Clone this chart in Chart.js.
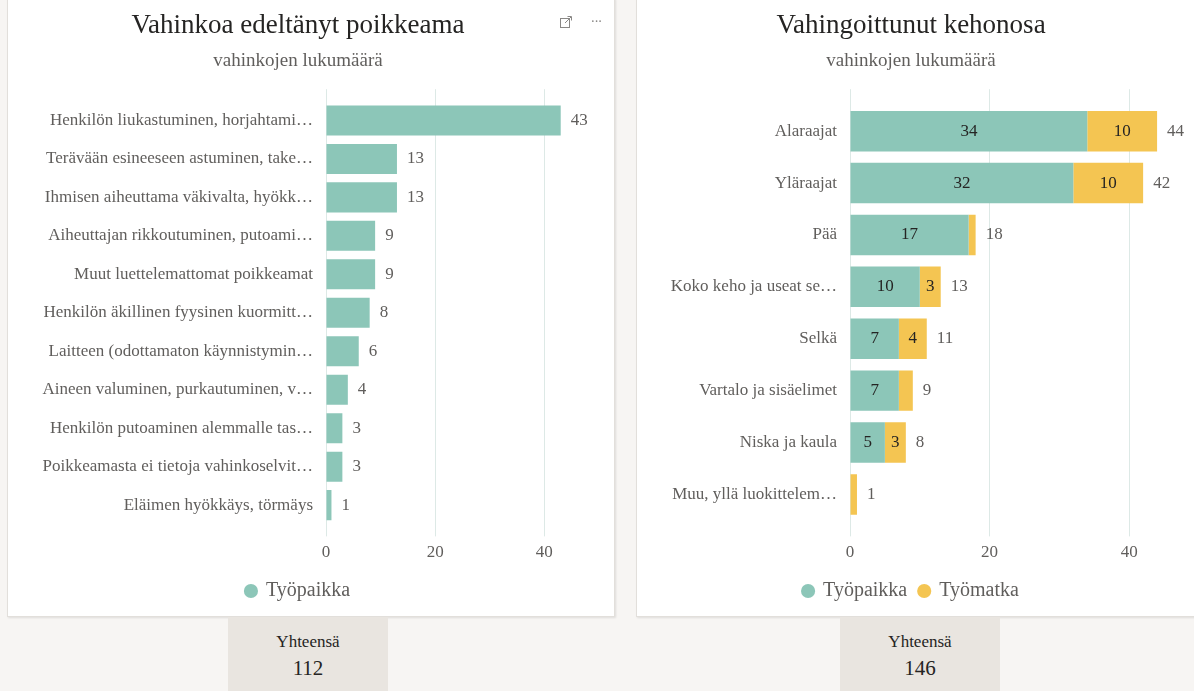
<!DOCTYPE html>
<html>
<head>
<meta charset="utf-8">
<title>Vahinkoa edeltänyt poikkeama / Vahingoittunut kehonosa</title>
<script src="https://cdn.jsdelivr.net/npm/chart.js"></script>
<style>
    body { margin: 0; width: 1194px; height: 691px; overflow: hidden; position: relative;
           background: #f7f5f3; font-family: "Liberation Serif", serif; }
    .panel { position: absolute; top: -2px; height: 617px; background: #fff; overflow: hidden;
             border: 1px solid #e2dfdb; box-shadow: 1px 1px 2px rgba(0,0,0,0.10); }
    #p1 { left: 7px; width: 606px; }
    #p2 { left: 636px; width: 570px; }
    .panel canvas { position: absolute; left: 0; top: 2px; }
    .icons { position: absolute; top: 14px; left: 551px; color: #8a8886; font-size: 14px; }
    .total { position: absolute; top: 617px; width: 160px; height: 80px; background: #e9e5e0;
             text-align: center; color: #252423; }
    .total .t1 { font-size: 17px; margin-top: 15px; }
    .total .t2 { font-size: 21px; margin-top: 4px; }
</style>
</head>
<body>
<div class="panel" id="p1">
    <canvas id="leftChart" width="606" height="610"></canvas>
    <div class="icons">
        <svg width="14" height="14" viewBox="0 0 14 14" style="vertical-align:middle">
            <rect x="1.5" y="3.5" width="9" height="9" fill="none" stroke="#8a8886"/>
            <path d="M6 8 L12 2 M8.5 1.5 H12.5 V5.5" fill="none" stroke="#8a8886"/>
        </svg>
        <span style="margin-left:14px;vertical-align:middle;letter-spacing:-1px">···</span>
    </div>
</div>
<div class="panel" id="p2">
    <canvas id="rightChart" width="568" height="610"></canvas>
</div>
<div class="total" style="left:228px"><div class="t1">Yhteensä</div><div class="t2" id="sum1"></div></div>
<div class="total" style="left:840px"><div class="t1">Yhteensä</div><div class="t2" id="sum2"></div></div>

<script>
    // data
    const leftLabels = [
        'Henkilön liukastuminen, horjahtami…',
        'Terävään esineeseen astuminen, take…',
        'Ihmisen aiheuttama väkivalta, hyökk…',
        'Aiheuttajan rikkoutuminen, putoami…',
        'Muut luettelemattomat poikkeamat',
        'Henkilön äkillinen fyysinen kuormitt…',
        'Laitteen (odottamaton käynnistymin…',
        'Aineen valuminen, purkautuminen, v…',
        'Henkilön putoaminen alemmalle tas…',
        'Poikkeamasta ei tietoja vahinkoselvit…',
        'Eläimen hyökkäys, törmäys'
    ];
    const leftTyopaikka = [43, 13, 13, 9, 9, 8, 6, 4, 3, 3, 1];

    const rightLabels = [
        'Alaraajat', 'Yläraajat', 'Pää', 'Koko keho ja useat se…',
        'Selkä', 'Vartalo ja sisäelimet', 'Niska ja kaula', 'Muu, yllä luokittelem…'
    ];
    const rightTyopaikka = [34, 32, 17, 10, 7, 7, 5, 0];
    const rightTyomatka = [10, 10, 1, 3, 4, 2, 3, 1];

    const axisMax = 48;
    const axisStep = 20;

    const teal = '#8cc6b8';
    const yellow = '#f4c552';
    const gridColor = '#dde9e6';
    const textGray = '#605e5c';
    const serif = '"Liberation Serif", serif';

    Chart.defaults.font.family = serif;

    const sum = arr => arr.reduce((a, b) => a + b, 0);
    document.getElementById('sum1').textContent = sum(leftTyopaikka);
    document.getElementById('sum2').textContent = sum(rightTyopaikka) + sum(rightTyomatka);

    // value labels: segment values inside the bars, totals after the bar end
    const valueLabels = {
        id: 'valueLabels',
        afterDatasetsDraw(chart, args, opts) {
            const ctx = chart.ctx;
            const xs = chart.scales.x;
            ctx.save();
            ctx.font = '17px ' + serif;
            ctx.textBaseline = 'middle';
            if (opts.inside) {
                ctx.textAlign = 'center';
                ctx.fillStyle = '#252423';
                chart.data.datasets.forEach((ds, di) => {
                    chart.getDatasetMeta(di).data.forEach((bar, i) => {
                        const v = ds.data[i];
                        if (v && Math.abs(bar.x - bar.base) >= 18) {
                            ctx.fillText(v, (bar.x + bar.base) / 2, bar.y);
                        }
                    });
                });
            }
            ctx.textAlign = 'left';
            ctx.fillStyle = textGray;
            chart.data.labels.forEach((l, i) => {
                const total = chart.data.datasets.reduce((s, ds) => s + ds.data[i], 0);
                const y = chart.getDatasetMeta(0).data[i].y;
                ctx.fillText(total, xs.getPixelForValue(total) + 10, y);
            });
            ctx.restore();
        }
    };

    function makeOptions(title, yWidth, padRight, tickLen, inside) {
        return {
            indexAxis: 'y',
            responsive: false,
            animation: false,
            layout: { padding: { left: 0, right: padRight, top: 0, bottom: 0 } },
            plugins: {
                title: {
                    display: true, text: title, color: '#252423',
                    font: { size: 27, weight: 'normal' }, padding: { top: 9, bottom: 2 }
                },
                subtitle: {
                    display: true, text: 'vahinkojen lukumäärä', color: textGray,
                    font: { size: 19 }, padding: { top: 5, bottom: 17 }
                },
                legend: {
                    position: 'bottom',
                    labels: {
                        usePointStyle: true, pointStyle: 'circle', boxWidth: 10, boxHeight: 10,
                        color: textGray, font: { size: 20 }, padding: 12
                    }
                },
                tooltip: { enabled: false },
                valueLabels: { inside: inside }
            },
            scales: {
                x: {
                    stacked: true, min: 0, max: axisMax,
                    ticks: { stepSize: axisStep, includeBounds: false, color: textGray,
                             font: { size: 17, lineHeight: 1.92 }, padding: 0 },
                    grid: { color: gridColor, tickLength: tickLen, drawTicks: true },
                    border: { display: false }
                },
                x2: {
                    type: 'linear', position: 'top', min: 0, max: axisMax,
                    ticks: { stepSize: axisStep, includeBounds: false, display: false },
                    grid: { color: gridColor, tickLength: tickLen, drawTicks: true },
                    border: { display: false }
                },
                y: {
                    stacked: true,
                    ticks: { color: textGray, font: { size: 17 }, padding: 13, autoSkip: false },
                    grid: { display: false, drawTicks: false },
                    border: { display: false },
                    afterFit(scale) { scale.width = yWidth; }
                }
            }
        };
    }

    new Chart(document.getElementById('leftChart'), {
        type: 'bar',
        data: {
            labels: leftLabels,
            datasets: [{
                label: 'Työpaikka', data: leftTyopaikka, backgroundColor: teal,
                categoryPercentage: 0.78, barPercentage: 1
            }]
        },
        options: makeOptions('Vahinkoa edeltänyt poikkeama', 318, 26, 12, false),
        plugins: [valueLabels]
    });

    new Chart(document.getElementById('rightChart'), {
        type: 'bar',
        data: {
            labels: rightLabels,
            datasets: [
                { label: 'Työpaikka', data: rightTyopaikka, backgroundColor: teal,
                  categoryPercentage: 0.78, barPercentage: 1 },
                { label: 'Työmatka', data: rightTyomatka, backgroundColor: yellow,
                  categoryPercentage: 0.78, barPercentage: 1 }
            ]
        },
        options: makeOptions('Vahingoittunut kehonosa', 213, 20, 16, true),
        plugins: [valueLabels]
    });
</script>
</body>
</html>
